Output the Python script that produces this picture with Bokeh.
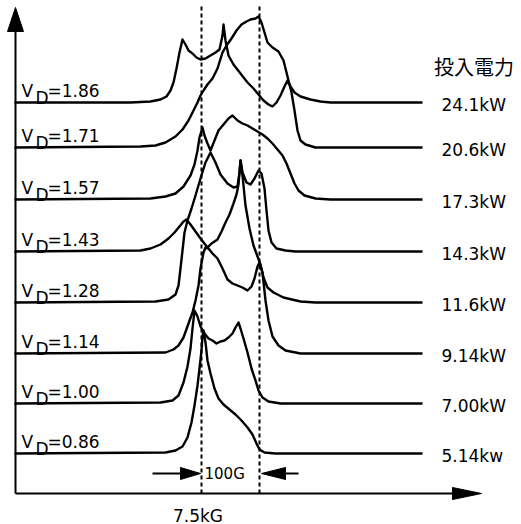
from bokeh.plotting import figure
from bokeh.models import Range1d
from bokeh.embed import file_html
from bokeh.resources import INLINE
from bokeh.core.properties import value

# Field offset from 7.5 kG (58 units = 100 G); signal in arbitrary units
vd_labels = ["1.86", "1.71", "1.57", "1.43", "1.28", "1.14", "1.00", "0.86"]
power_labels = ["24.1kW", "20.6kW", "17.3kW", "14.3kW", "11.6kW", "9.14kW", "7.00kW", "5.14kw"]
header = "投入電力"
center_field_label = "7.5kG"
span_label = "100G"
ref_fields = [0, 58]  # 7.5 kG and 7.5 kG + 100 G

field_186 = [-187, -71, -51, -41, -35, -31, -28, -25, -22, -19, -16, -13, -9, -5, -1, 4, 9, 14, 18, 21,
             22, 24, 27, 32, 39, 46, 52, 57, 62, 67, 71, 75, 79, 83, 86, 89, 93, 99, 109, 119, 129, 221]
sig_186 = [0, 0, 1, 3, 6, 12, 20, 34, 50, 63, 58, 52, 49, 45, 43, 44, 47, 50, 53, 67,
           78, 62, 47, 38, 29, 20, 14, 8, 2, -2, -4, 0, 7, 16, 22, 16, 10, 6, 3, 1, 0, 0]

field_171 = [-187, -61, -46, -36, -26, -19, -13, -8, -4, -1, 2, 6, 11, 16, 21, 25, 30, 35, 40, 45,
             49, 54, 57, 60, 63, 66, 71, 77, 82, 85, 87, 90, 93, 96, 99, 104, 114, 221]
sig_171 = [0, 1, 2, 5, 11, 18, 27, 37, 45, 52, 57, 63, 69, 79, 95, 102, 109, 117, 123, 126,
           128, 129, 131, 125, 115, 105, 100, 96, 87, 75, 67, 55, 37, 17, 7, 3, 0, 0]

field_157 = [-187, -51, -36, -26, -18, -11, -7, -4, -2, 1, 3, 6, 9, 13, 17, 22, 27, 31, 36, 41,
             46, 51, 56, 61, 66, 71, 76, 81, 85, 89, 93, 97, 103, 114, 129, 221]
sig_157 = [0, 1, 3, 6, 13, 24, 35, 49, 62, 72, 64, 56, 49, 59, 69, 75, 81, 84, 79, 76,
           74, 71, 68, 65, 61, 56, 50, 44, 36, 26, 16, 9, 4, 1, 0, 0]

field_143 = [-187, -61, -51, -41, -33, -27, -22, -18, -15, -11, -6, -1, 6, 10, 16, 20, 24, 28, 32, 35,
             37, 39, 41, 45, 49, 53, 57, 60, 63, 65, 67, 70, 75, 84, 94, 221]
sig_143 = [0, 1, 3, 7, 13, 19, 25, 30, 32, 27, 20, 13, 4, 8, 12, 20, 29, 37, 48, 57,
           67, 91, 79, 69, 67, 73, 81, 78, 63, 41, 21, 9, 3, 1, 0, 0]

field_128 = [-187, -46, -33, -26, -23, -21, -19, -17, -14, -10, -6, -1, 4, 9, 14, 19, 26, 32, 36, 38,
             39, 41, 44, 48, 52, 56, 59, 62, 66, 72, 82, 99, 114, 221]
sig_128 = [0, 1, 3, 8, 17, 34, 52, 70, 82, 94, 107, 124, 140, 150, 140, 128, 119, 115, 116, 130,
           142, 127, 97, 74, 57, 46, 38, 25, 15, 10, 5, 1, 0, 0]

field_114 = [-187, -36, -28, -23, -18, -13, -9, -6, -3, -1, 2, 4, 7, 11, 16, 21, 26, 31, 36, 41,
             46, 50, 53, 56, 58, 61, 64, 67, 71, 77, 84, 99, 221]
sig_114 = [0, 1, 4, 8, 16, 30, 41, 53, 68, 85, 101, 106, 105, 100, 95, 85, 74, 70, 68, 66,
           63, 67, 75, 87, 91, 81, 53, 33, 17, 8, 3, 0, 0]

field_100 = [-187, -41, -29, -23, -18, -14, -11, -9, -7, -4, -1, 3, 7, 11, 15, 19, 23, 27, 31, 34,
             37, 39, 42, 46, 50, 54, 57, 61, 67, 79, 221]
sig_100 = [0, 1, 3, 8, 21, 37, 55, 75, 93, 87, 77, 70, 65, 63, 60, 62, 63, 66, 70, 76,
           81, 75, 65, 51, 35, 23, 13, 6, 2, 0, 0]

field_086 = [-187, -36, -26, -19, -14, -10, -7, -4, -2, 0, 1, 2, 4, 6, 9, 13, 17, 22, 28, 34,
             40, 46, 51, 55, 58, 63, 74, 221]
sig_086 = [0, 1, 3, 7, 16, 31, 48, 68, 85, 103, 117, 123, 111, 93, 80, 65, 55, 49, 44, 39,
           33, 26, 19, 10, 4, 1, 0, 0]

fields = [field_186, field_171, field_157, field_143, field_128, field_114, field_100, field_086]
signals = [sig_186, sig_171, sig_157, sig_143, sig_128, sig_114, sig_100, sig_086]

# layout: vertical stacking offsets of each trace
offsets = [391, 346, 294, 242, 191, 140, 90, 40]

FONT = value("DejaVu Sans")

p = figure(width=521, height=524, x_range=Range1d(-201, 320), y_range=Range1d(-31, 493),
           output_backend="svg", toolbar_location=None,
           x_axis_location=None, y_axis_location=None, min_border=0)
p.outline_line_color = None
p.grid.visible = False
p.background_fill_color = "white"
p.border_fill_color = "white"

# traces
for f, s, off in zip(fields, signals, offsets):
    p.line(f, [off + v for v in s], line_color="black", line_width=2.4, line_join="round")

# reference dashed lines
for xf in ref_fields:
    p.line([xf, xf], [0, 488], line_color="black", line_width=2, line_dash="4 3")

# axes with arrows
p.line([-186, -186], [0, 465], line_color="black", line_width=2)
p.patch([-194, -178, -186], [462, 462, 486], color="black")
p.line([-186, 252], [0, 0], line_color="black", line_width=2)
p.patch([251, 251, 280], [6, -6, 0], color="black")

# 100 G span arrows
p.line([-49, -19], [20, 20], line_color="black", line_width=2)
p.patch([-21, -21, -1], [26, 14, 20], color="black")
p.line([97, 82], [20, 20], line_color="black", line_width=2)
p.patch([84, 84, 60], [26, 14, 20], color="black")
p.text(x=[3], y=[20], text=[span_label], text_font=FONT, text_font_size="15px",
       text_baseline="middle", text_align="left", text_color="black")
p.text(x=[-3.5], y=[-22], text=[center_field_label], text_font=FONT, text_font_size="17px",
       text_baseline="middle", text_align="center", text_color="black")

# left labels V_D=...
n = len(vd_labels)
lx = [-180] * n
ly = [o + 12 for o in offsets]
p.text(x=lx, y=ly, text=["V"] * n, text_font=FONT, text_font_size="17px",
       text_baseline="alphabetic", text_color="black")
p.text(x=lx, y=ly, text=["D"] * n, x_offset=14, y_offset=7, text_font=FONT, text_font_size="17px",
       text_baseline="alphabetic", text_color="black")
p.text(x=lx, y=ly, text=["=" + v for v in vd_labels], x_offset=26, text_font=FONT,
       text_font_size="17px", text_baseline="alphabetic", text_color="black")

# right labels (power)
p.text(x=[240] * n, y=[o - 2 for o in offsets], text=power_labels, text_font=FONT,
       text_font_size="17px", text_baseline="middle", text_align="left", text_color="black")
p.text(x=[272.5], y=[427], text=[header], text_font=value("Noto Sans CJK JP"),
       text_font_size="20px", text_baseline="middle", text_align="center", text_color="black")

open("out.html", "w").write(file_html(p, INLINE))
